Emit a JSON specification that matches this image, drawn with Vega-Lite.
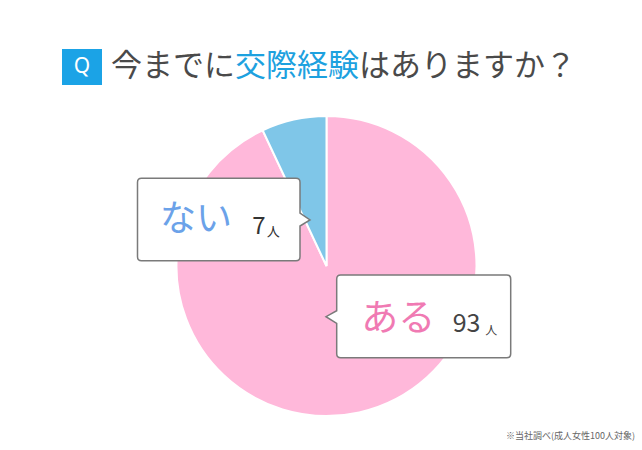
{
  "$schema": "https://vega.github.io/schema/vega-lite/v6.json",
  "padding": {"left": 62, "top": 49, "right": 0, "bottom": 0},
  "background": "white",
  "config": {"view": {"stroke": null}, "font": "Noto Sans CJK JP", "text": {"font": "Noto Sans CJK JP"}},
  "spacing": 52,
  "bounds": "flush",
  "vconcat": [
    {
      "spacing": 9,
      "bounds": "flush",
      "hconcat": [
        {
          "width": 40, "height": 36,
          "view": {"fill": "#1BA3E6", "stroke": null},
          "data": {"values": [{"t": "Q"}]},
          "mark": {"type": "text", "fontSize": 21, "color": "white", "font": "Noto Sans", "baseline": "middle", "align": "center"},
          "encoding": {"text": {"field": "t", "type": "nominal"}}
        },
        {
          "spacing": 0,
          "bounds": "flush",
          "hconcat": [
            {
              "width": 124, "height": 36,
              "data": {"values": [{"t": "今までに"}]},
              "mark": {"type": "text", "fontSize": 31, "color": "#4A4A4A", "baseline": "middle", "align": "center"},
              "encoding": {"text": {"field": "t", "type": "nominal"}}
            },
            {
              "width": 124, "height": 36,
              "data": {"values": [{"t": "交際経験"}]},
              "mark": {"type": "text", "fontSize": 31, "color": "#1DA1DF", "baseline": "middle", "align": "center"},
              "encoding": {"text": {"field": "t", "type": "nominal"}}
            },
            {
              "width": 217, "height": 36,
              "data": {"values": [{"t": "はありますか？"}]},
              "mark": {"type": "text", "fontSize": 31, "color": "#4A4A4A", "baseline": "middle", "align": "center"},
              "encoding": {"text": {"field": "t", "type": "nominal"}}
            }
          ]
        }
      ]
    },
    {
      "width": 529, "height": 330,
      "data": {"values": [
        {"answer": "ある", "count": 93, "unit": "人"},
        {"answer": "ない", "count": 7, "unit": "人"}
      ]},
      "title": {"text": "※当社調べ(成人女性100人対象)", "orient": "bottom", "anchor": "end", "fontSize": 9, "color": "#666666", "fontWeight": "normal", "dx": 44, "offset": 1, "baseline": "top", "font": "Noto Sans CJK JP"},
      "layer": [
        {
          "mark": {"type": "arc", "radius": 150, "stroke": "white", "strokeWidth": 2},
          "encoding": {
            "theta": {"field": "count", "type": "quantitative", "stack": true},
            "color": {"field": "answer", "type": "nominal", "scale": {"domain": ["ある", "ない"], "range": ["#FFB8DA", "#7FC6E8"]}, "legend": null},
            "order": {"field": "answer", "sort": "ascending"}
          }
        },
        {
          "transform": [{"filter": "datum.answer === 'ない'"}],
          "mark": {"type": "point", "shape": "M -185 -87.7 L -30.5 -87.7 Q -26.5 -87.7 -26.5 -83.7 L -26.5 -53 L -16.5 -46 L -26.5 -40 L -26.5 -9.3 Q -26.5 -5.3 -30.5 -5.3 L -185 -5.3 Q -189 -5.3 -189 -9.3 L -189 -83.7 Q -189 -87.7 -185 -87.7 Z", "size": 4, "filled": true, "fill": "white", "stroke": "#7A7A7A", "strokeWidth": 1.5, "opacity": 1},
          "encoding": {}
        },
        {
          "transform": [{"filter": "datum.answer === 'ある'"}],
          "mark": {"type": "point", "shape": "M 14.2 9 L 180.2 9 Q 184.2 9 184.2 13 L 184.2 87.7 Q 184.2 91.7 180.2 91.7 L 14.2 91.7 Q 10.2 91.7 10.2 87.7 L 10.2 57.3 L -0.5 50.7 L 10.2 44.7 L 10.2 13 Q 10.2 9 14.2 9 Z", "size": 4, "filled": true, "fill": "white", "stroke": "#7A7A7A", "strokeWidth": 1.5, "opacity": 1},
          "encoding": {}
        },
        {
          "transform": [{"filter": "datum.answer === 'ない'"}],
          "mark": {"type": "text", "fontSize": 36, "color": "#6BA2E9", "dx": -130.5, "dy": -46.5, "baseline": "middle", "align": "center"},
          "encoding": {"text": {"field": "answer", "type": "nominal"}}
        },
        {
          "transform": [{"filter": "datum.answer === 'ない'"}],
          "mark": {"type": "text", "fontSize": 24, "color": "#333333", "dx": -67.5, "dy": -39.3, "baseline": "middle", "align": "center"},
          "encoding": {"text": {"field": "count", "type": "nominal"}}
        },
        {
          "transform": [{"filter": "datum.answer === 'ない'"}],
          "mark": {"type": "text", "fontSize": 13, "color": "#333333", "dx": -53.2, "dy": -34, "baseline": "middle", "align": "center"},
          "encoding": {"text": {"field": "unit", "type": "nominal"}}
        },
        {
          "transform": [{"filter": "datum.answer === 'ある'"}],
          "mark": {"type": "text", "fontSize": 37, "color": "#F07AB3", "dx": 71.8, "dy": 53.5, "baseline": "middle", "align": "center"},
          "encoding": {"text": {"field": "answer", "type": "nominal"}}
        },
        {
          "transform": [{"filter": "datum.answer === 'ある'"}],
          "mark": {"type": "text", "fontSize": 25, "color": "#444444", "dx": 140, "dy": 58, "baseline": "middle", "align": "center"},
          "encoding": {"text": {"field": "count", "type": "nominal"}}
        },
        {
          "transform": [{"filter": "datum.answer === 'ある'"}],
          "mark": {"type": "text", "fontSize": 12, "color": "#444444", "dx": 164.7, "dy": 64.7, "baseline": "middle", "align": "center"},
          "encoding": {"text": {"field": "unit", "type": "nominal"}}
        }
      ]
    }
  ]
}
